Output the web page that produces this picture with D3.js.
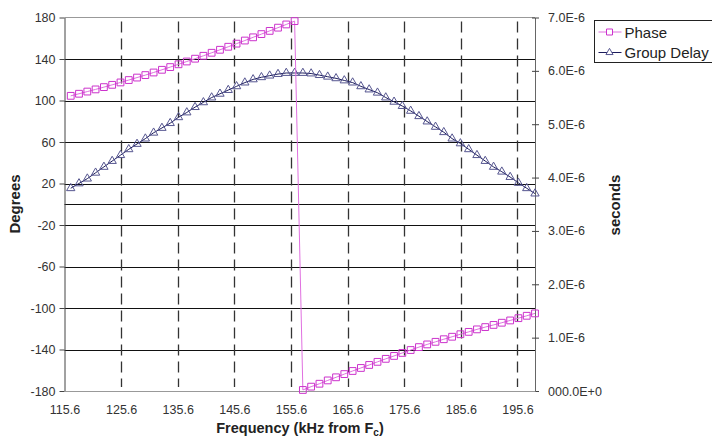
<!DOCTYPE html>
<html>
<head>
<meta charset="utf-8">
<script src="https://cdn.jsdelivr.net/npm/d3@7"></script>
<style>
  body { margin: 0; background: #fff; }
  svg { font-family: "Liberation Sans", Arial, sans-serif; }
</style>
</head>
<body>
<svg id="chart" width="712" height="440"></svg>
<script>
// frequency (kHz from Fc) of each sample
var freq = [116.70, 118.16, 119.63, 121.09, 122.56, 124.02, 125.49, 126.95, 128.41, 129.88,
  131.34, 132.81, 134.27, 135.74, 137.20, 138.66, 140.13, 141.59, 143.06, 144.52,
  145.99, 147.45, 148.91, 150.38, 151.84, 153.31, 154.77, 156.24, 157.70, 159.16,
  160.63, 162.09, 163.56, 165.02, 166.49, 167.95, 169.41, 170.88, 172.34, 173.81,
  175.27, 176.74, 178.20, 179.66, 181.13, 182.59, 184.06, 185.52, 186.99, 188.45,
  189.91, 191.38, 192.84, 194.31, 195.77, 197.24, 198.70];

// phase in degrees
var phase = [104.5, 106.5, 108.6, 110.7, 112.9, 115.1, 117.4, 119.7, 122.1, 124.5,
  127.0, 129.6, 132.2, 134.9, 137.6, 140.3, 143.1, 146.0, 148.9, 151.8,
  154.8, 157.8, 160.9, 164.0, 167.1, 170.2, 173.3, 176.5, -179.0, -175.8,
  -173.0, -169.8, -166.8, -163.7, -160.7, -157.8, -154.9, -151.9, -149.0, -146.2,
  -143.3, -140.5, -137.7, -135.1, -132.6, -130.1, -127.7, -125.3, -123.0, -120.6,
  -118.4, -116.3, -114.2, -112.0, -109.8, -107.5, -105.2];

// group delay in microseconds
var groupDelay = [3.80, 3.89, 3.98, 4.09, 4.20, 4.31, 4.42, 4.53, 4.63, 4.73,
  4.84, 4.93, 5.02, 5.13, 5.22, 5.32, 5.41, 5.50, 5.57, 5.64,
  5.71, 5.78, 5.84, 5.88, 5.91, 5.94, 5.96, 5.96, 5.96, 5.95,
  5.92, 5.89, 5.86, 5.82, 5.78, 5.71, 5.65, 5.59, 5.50, 5.42,
  5.34, 5.25, 5.15, 5.05, 4.95, 4.85, 4.73, 4.64, 4.53, 4.42,
  4.31, 4.20, 4.11, 4.01, 3.90, 3.80, 3.70];

var xTicks = [115.6, 125.6, 135.6, 145.6, 155.6, 165.6, 175.6, 185.6, 195.6];
var leftTicks = [180, 140, 100, 60, 20, -20, -60, -100, -140, -180];
var rightTicks = [0, 1, 2, 3, 4, 5, 6, 7];
var rightTickLabels = ["000.0E+0", "1.0E-6", "2.0E-6", "3.0E-6", "4.0E-6", "5.0E-6", "6.0E-6", "7.0E-6"];
var seriesNames = ["Phase", "Group Delay"];

var svg = d3.select("#chart");
var plotL = 64.5, plotR = 535, plotT = 17.5, plotB = 391;
var tickFont = "Liberation Sans, Arial, sans-serif";

var x = d3.scaleLinear().domain([115.6, 198.7]).range([plotL, plotR]);
var yL = d3.scaleLinear().domain([-180, 180]).range([plotB, plotT]);
var yR = d3.scaleLinear().domain([0, 7]).range([plotB, plotT]);

// plot frame (top edge)
svg.append("line").attr("x1", plotL).attr("x2", plotR).attr("y1", plotT).attr("y2", plotT)
  .attr("stroke", "#999").attr("stroke-width", 1);

// horizontal grid
svg.append("g").selectAll("line")
  .data(leftTicks.filter(function(d) { return d != 180 && d != -180; }).concat([0]))
  .enter().append("line")
  .attr("x1", plotL).attr("x2", plotR)
  .attr("y1", function(d) { return Math.round(yL(d)) + 0.5; })
  .attr("y2", function(d) { return Math.round(yL(d)) + 0.5; })
  .attr("stroke", "#111").attr("stroke-width", 1.2);

// vertical dashed grid
svg.append("g").selectAll("line")
  .data(xTicks.slice(1))
  .enter().append("line")
  .attr("x1", function(d) { return Math.round(x(d)) + 0.5; })
  .attr("x2", function(d) { return Math.round(x(d)) + 0.5; })
  .attr("y1", plotT + 4).attr("y2", plotB - 4)
  .attr("stroke", "#333").attr("stroke-width", 1.3)
  .attr("stroke-dasharray", "11,6");

// left axis
var gl = svg.append("g").attr("transform", "translate(" + plotL + ",0)")
  .call(d3.axisLeft(yL).tickValues(leftTicks).tickSizeInner(5).tickSizeOuter(0).tickPadding(4)
    .tickFormat(function(d) { return String(d); }));
gl.select(".domain").attr("stroke", "#444");
gl.selectAll(".tick line").attr("stroke", "#444");
gl.selectAll("text").attr("font-size", 12.5).attr("fill", "#333").attr("font-family", tickFont);

// right axis
var gr = svg.append("g").attr("transform", "translate(" + plotR + ",0)")
  .call(d3.axisRight(yR).tickValues(rightTicks).tickSizeOuter(0).tickPadding(7)
    .tickFormat(function(d, i) { return rightTickLabels[i]; }));
gr.select(".domain").attr("stroke", "#666");
gr.selectAll(".tick line").attr("x1", -3).attr("x2", 4).attr("stroke", "#444");
gr.selectAll("text").attr("font-size", 12.5).attr("fill", "#333").attr("font-family", tickFont);

// bottom axis
var gb = svg.append("g").attr("transform", "translate(0," + plotB + ")")
  .call(d3.axisBottom(x).tickValues(xTicks).tickSize(0).tickPadding(14)
    .tickFormat(function(d) { return d.toFixed(1); }));
gb.select(".domain").attr("stroke", "#999");
gb.selectAll("text").attr("font-size", 12.5).attr("fill", "#333").attr("font-family", tickFont);

// axis titles
svg.append("text").attr("transform", "translate(20,204) rotate(-90)")
  .attr("text-anchor", "middle").attr("font-size", 15).attr("font-weight", "bold")
  .attr("fill", "#222").text("Degrees");
svg.append("text").attr("transform", "translate(620,205) rotate(-90)")
  .attr("text-anchor", "middle").attr("font-size", 15).attr("font-weight", "bold")
  .attr("fill", "#222").text("seconds");
var xt = svg.append("text").attr("x", 300).attr("y", 433)
  .attr("text-anchor", "middle").attr("font-size", 14.5).attr("font-weight", "bold")
  .attr("fill", "#222");
xt.append("tspan").text("Frequency (kHz from F");
xt.append("tspan").attr("font-size", 10).attr("dy", 3).text("c");
xt.append("tspan").attr("dy", -3).text(")");

var idx = d3.range(freq.length);

// group delay series
var gdLine = d3.line()
  .x(function(i) { return x(freq[i]); })
  .y(function(i) { return yR(groupDelay[i]); });
svg.append("path").datum(idx).attr("d", gdLine)
  .attr("fill", "none").attr("stroke", "#1c1c5c").attr("stroke-width", 1);
svg.append("g").selectAll("path").data(idx).enter().append("path")
  .attr("d", d3.symbol().type(d3.symbolTriangle).size(30))
  .attr("transform", function(i) { return "translate(" + x(freq[i]) + "," + yR(groupDelay[i]) + ")"; })
  .attr("fill", "none").attr("stroke", "#565690").attr("stroke-width", 1);

// phase series
var phLine = d3.line()
  .x(function(i) { return x(freq[i]); })
  .y(function(i) { return yL(phase[i]); });
svg.append("path").datum(idx).attr("d", phLine)
  .attr("fill", "none").attr("stroke", "#e070e0").attr("stroke-width", 1);
svg.append("g").selectAll("path").data(idx).enter().append("path")
  .attr("d", d3.symbol().type(d3.symbolSquare).size(46))
  .attr("transform", function(i) { return "translate(" + x(freq[i]) + "," + yL(phase[i]) + ")"; })
  .attr("fill", "none").attr("stroke", "#cc33cc").attr("stroke-width", 1);

// legend
var lg = svg.append("g").attr("transform", "translate(594.5,20.5)");
lg.append("rect").attr("width", 140).attr("height", 42)
  .attr("fill", "#fff").attr("stroke", "#222").attr("stroke-width", 1);
var lgColors = [["#e070e0", "#cc33cc"], ["#1c1c5c", "#565690"]];
var lgSymbols = [d3.symbol().type(d3.symbolSquare).size(36), d3.symbol().type(d3.symbolTriangle).size(22)];
seriesNames.forEach(function(name, k) {
  var yy = 11.5 + k * 20.5;
  lg.append("line").attr("x1", 4).attr("x2", 27).attr("y1", yy).attr("y2", yy)
    .attr("stroke", lgColors[k][0]).attr("stroke-width", 1);
  lg.append("path").attr("d", lgSymbols[k]).attr("transform", "translate(15," + yy + ")")
    .attr("fill", "#fff").attr("stroke", lgColors[k][1]).attr("stroke-width", 1);
  lg.append("text").attr("x", 30).attr("y", yy + 5.5).attr("font-size", 15)
    .attr("fill", "#222").text(name);
});
</script>
</body>
</html>
